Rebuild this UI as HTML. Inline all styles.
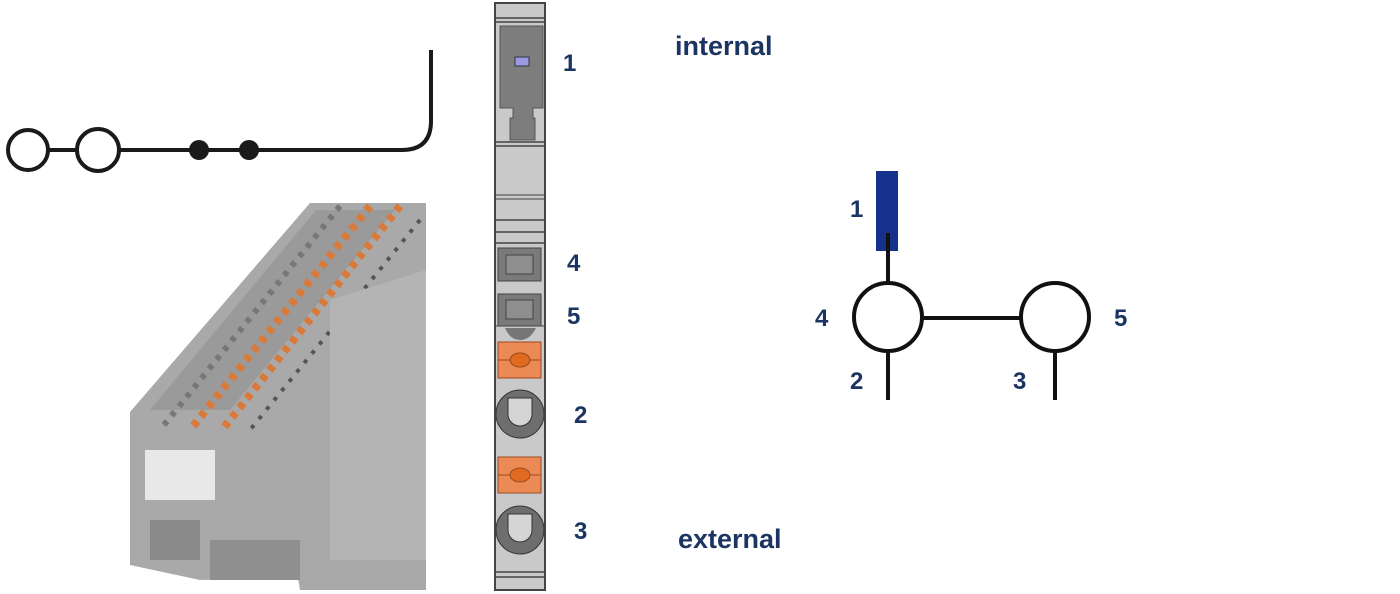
<!DOCTYPE html>
<html><head><meta charset="utf-8"><style>
html,body{margin:0;padding:0;background:#fff;width:1400px;height:594px;overflow:hidden}
svg{display:block}
text{font-family:"Liberation Sans",Arial,sans-serif;font-weight:bold;fill:#1c3461}
</style></head><body>
<svg width="1400" height="594" viewBox="0 0 1400 594" xmlns="http://www.w3.org/2000/svg">
<g stroke="#1a1a1a" stroke-width="4" fill="none">
<circle cx="28" cy="150" r="20"/>
<circle cx="98" cy="150" r="21"/>
<line x1="48" y1="150" x2="77" y2="150"/>
<path d="M119 150 H402 Q431 150 431 121 V50"/>
</g>
<circle cx="199" cy="150" r="10" fill="#1a1a1a"/>
<circle cx="249" cy="150" r="10" fill="#1a1a1a"/>

<g>
<polygon points="310,203 426,203 426,590 300,590 298,578 200,580 130,565 130,412" fill="#a9a9a9"/>
<polygon points="316,210 395,210 230,410 150,410" fill="#9a9a9a"/>
<line x1="370" y1="206" x2="190" y2="430" stroke="#d97a3a" stroke-width="8" stroke-dasharray="6 6"/>
<line x1="400" y1="206" x2="222" y2="430" stroke="#d97a3a" stroke-width="8" stroke-dasharray="6 6"/>
<line x1="340" y1="206" x2="160" y2="430" stroke="#777" stroke-width="6" stroke-dasharray="5 7"/>
<line x1="420" y1="220" x2="250" y2="430" stroke="#555" stroke-width="4" stroke-dasharray="4 8"/>
<polygon points="330,300 426,270 426,560 330,560" fill="#b4b4b4"/>
<rect x="145" y="450" width="70" height="50" fill="#e8e8e8"/>
<rect x="150" y="520" width="50" height="40" fill="#8a8a8a"/>
<rect x="210" y="540" width="90" height="40" fill="#8f8f8f"/>
</g>

<g>
<rect x="495" y="3" width="50" height="587" fill="#c9c9c9" stroke="#444" stroke-width="2"/>
<line x1="495" y1="18" x2="545" y2="18" stroke="#444" stroke-width="1.5"/>
<line x1="495" y1="22" x2="545" y2="22" stroke="#444" stroke-width="1.5"/>
<path d="M500 26 H543 V108 H533 V118 H535 V140 H510 V118 H513 V108 H500 Z" fill="#7d7d7d" stroke="#555"/>
<rect x="515" y="57" width="14" height="9" fill="#9a9ae0" stroke="#334" />
<line x1="495" y1="142" x2="545" y2="142" stroke="#444" stroke-width="1.5"/>
<line x1="495" y1="146" x2="545" y2="146" stroke="#444" stroke-width="1.5"/>
<line x1="495" y1="195" x2="545" y2="195" stroke="#444" stroke-width="1"/>
<line x1="495" y1="199" x2="545" y2="199" stroke="#444" stroke-width="1"/>
<line x1="495" y1="220" x2="545" y2="220" stroke="#444" stroke-width="1.5"/>
<line x1="495" y1="232" x2="545" y2="232" stroke="#444" stroke-width="1.5"/>
<line x1="495" y1="243" x2="545" y2="243" stroke="#444" stroke-width="1.5"/>
<rect x="498" y="248" width="43" height="33" fill="#7a7a7a" stroke="#444"/>
<rect x="506" y="255" width="27" height="19" fill="#8e8e8e" stroke="#444"/>
<rect x="498" y="294" width="43" height="32" fill="#7a7a7a" stroke="#444"/>
<rect x="506" y="300" width="27" height="19" fill="#8e8e8e" stroke="#444"/>
<line x1="495" y1="326" x2="545" y2="326" stroke="#444" stroke-width="1"/>
<path d="M505 328 H536 Q530 340 520 340 Q510 340 505 328 Z" fill="#777"/>
<rect x="498" y="342" width="43" height="36" fill="#ec8a55" stroke="#9a4a20"/>
<line x1="498" y1="360" x2="541" y2="360" stroke="#9a4a20"/>
<ellipse cx="520" cy="360" rx="10" ry="7" fill="#e06a20" stroke="#9a4a20"/>
<circle cx="520" cy="414" r="24" fill="#6e6e6e" stroke="#333"/>
<path d="M508 398 H532 V414 A12 12 0 0 1 508 414 Z" fill="#d4d4d4" stroke="#333"/>
<rect x="498" y="457" width="43" height="36" fill="#ec8a55" stroke="#9a4a20"/>
<line x1="498" y1="475" x2="541" y2="475" stroke="#9a4a20"/>
<ellipse cx="520" cy="475" rx="10" ry="7" fill="#e06a20" stroke="#9a4a20"/>
<circle cx="520" cy="530" r="24" fill="#6e6e6e" stroke="#333"/>
<path d="M508 514 H532 V530 A12 12 0 0 1 508 530 Z" fill="#d4d4d4" stroke="#333"/>
<line x1="495" y1="572" x2="545" y2="572" stroke="#444" stroke-width="1.5"/>
<line x1="495" y1="577" x2="545" y2="577" stroke="#444" stroke-width="1.5"/>
</g>
<text x="563" y="71" font-size="24">1</text>
<text x="567" y="271" font-size="24">4</text>
<text x="567" y="324" font-size="24">5</text>
<text x="574" y="423" font-size="24">2</text>
<text x="574" y="539" font-size="24">3</text>
<text x="675" y="55" font-size="27">internal</text>
<text x="678" y="548" font-size="27">external</text>

<rect x="876" y="171" width="22" height="80" fill="#16318c"/>
<g stroke="#111" stroke-width="4" fill="none">
<line x1="888" y1="233" x2="888" y2="283"/>
<circle cx="888" cy="317" r="34"/>
<line x1="922" y1="318" x2="1021" y2="318"/>
<circle cx="1055" cy="317" r="34"/>
<line x1="888" y1="351" x2="888" y2="400"/>
<line x1="1055" y1="351" x2="1055" y2="400"/>
</g>
<text x="850" y="217" font-size="24">1</text>
<text x="815" y="326" font-size="24">4</text>
<text x="850" y="389" font-size="24">2</text>
<text x="1013" y="389" font-size="24">3</text>
<text x="1114" y="326" font-size="24">5</text>
</svg>
</body></html>
